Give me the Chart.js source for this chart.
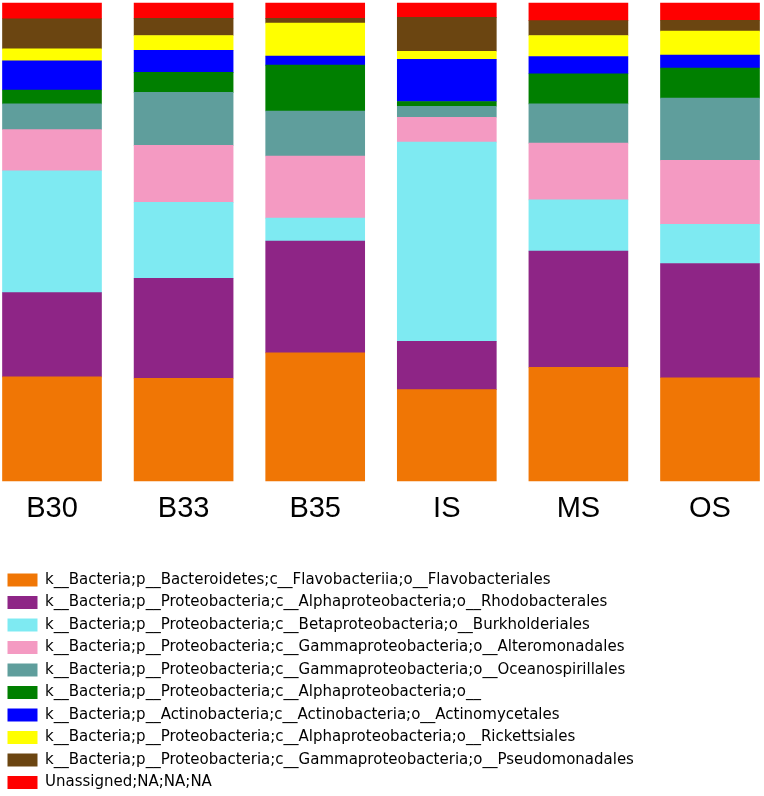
<!DOCTYPE html>
<html>
<head>
<meta charset="utf-8">
<script src="https://cdn.jsdelivr.net/npm/chart.js@4.4.0/dist/chart.umd.min.js"></script>
<style>
  html, body { margin: 0; padding: 0; background: #fff; }
  #wrap { width: 764px; height: 796px; }
</style>
</head>
<body>
<div id="wrap"><canvas id="myChart" width="764" height="796"></canvas></div>
<script>
const samples = ['B30', 'B33', 'B35', 'IS', 'MS', 'OS']

// relative abundance (%) per sample, bottom of the stack first
const flavobacteriales = [21.8, 21.5, 26.8, 19.1, 23.8, 21.6]
const rhodobacterales = [17.6, 20.9, 23.4, 10.1, 24.3, 23.9]
const burkholderiales = [25.5, 15.9, 4.8, 41.7, 10.7, 8.2]
const alteromonadales = [8.6, 11.9, 13.0, 5.2, 11.9, 13.4]
const oceanospirillales = [5.4, 11.1, 9.4, 2.3, 8.2, 13.0]
const alphaOther = [2.9, 4.2, 9.6, 1.0, 6.3, 6.3]
const actinomycetales = [6.1, 4.6, 1.9, 8.8, 3.6, 2.7]
const rickettsiales = [2.5, 3.1, 6.9, 1.7, 4.4, 5.0]
const pseudomonadales = [6.3, 3.6, 1.0, 7.1, 3.1, 2.3]
const unassigned = [3.3, 3.2, 3.2, 3.0, 3.7, 3.6]

const taxa = [
    {label: 'k__Bacteria;p__Bacteroidetes;c__Flavobacteriia;o__Flavobacteriales', data: flavobacteriales, color: '#f07605'},
    {label: 'k__Bacteria;p__Proteobacteria;c__Alphaproteobacteria;o__Rhodobacterales', data: rhodobacterales, color: '#8e2586'},
    {label: 'k__Bacteria;p__Proteobacteria;c__Betaproteobacteria;o__Burkholderiales', data: burkholderiales, color: '#7eeaf2'},
    {label: 'k__Bacteria;p__Proteobacteria;c__Gammaproteobacteria;o__Alteromonadales', data: alteromonadales, color: '#f49ac2'},
    {label: 'k__Bacteria;p__Proteobacteria;c__Gammaproteobacteria;o__Oceanospirillales', data: oceanospirillales, color: '#5f9e9c'},
    {label: 'k__Bacteria;p__Proteobacteria;c__Alphaproteobacteria;o__', data: alphaOther, color: '#007f00'},
    {label: 'k__Bacteria;p__Actinobacteria;c__Actinobacteria;o__Actinomycetales', data: actinomycetales, color: '#0000ff'},
    {label: 'k__Bacteria;p__Proteobacteria;c__Alphaproteobacteria;o__Rickettsiales', data: rickettsiales, color: '#ffff00'},
    {label: 'k__Bacteria;p__Proteobacteria;c__Gammaproteobacteria;o__Pseudomonadales', data: pseudomonadales, color: '#6b4511'},
    {label: 'Unassigned;NA;NA;NA', data: unassigned, color: '#ff0000'}
]

const ctx = document.querySelector('#myChart').getContext('2d')

const taxaChart = new Chart(ctx, {
    type: 'bar',
    data: {
        labels: samples,
        datasets: taxa.map(t => ({
            label: t.label,
            data: t.data,
            backgroundColor: t.color,
            borderWidth: 0,
            barThickness: 99,
            clip: false
        }))
    },
    options: {
        responsive: false,
        animation: false,
        layout: {padding: {top: 3, bottom: -4, left: 0, right: 0}},
        plugins: {
            tooltip: {enabled: false},
            legend: {
                position: 'bottom',
                align: 'start',
                labels: {
                    boxWidth: 30,
                    boxHeight: 13,
                    padding: 7.5,
                    color: '#000',
                    font: {family: 'DejaVu Sans', size: 15}
                }
            }
        },
        scales: {
            x: {
                stacked: true,
                offset: false,
                grid: {display: false},
                border: {display: false},
                ticks: {
                    color: '#000',
                    padding: 3,
                    maxRotation: 0,
                    font: {family: 'Liberation Sans', size: 29}
                },
                afterFit: s => { s.height = 84 }
            },
            y: {
                stacked: true,
                min: 0,
                max: 100,
                grid: {display: false},
                border: {display: false},
                ticks: {display: false},
                afterFit: s => { s.width = 52 }
            },
            y2: {
                position: 'right',
                grid: {display: false},
                border: {display: false},
                ticks: {display: false},
                afterFit: s => { s.width = 54 }
            }
        }
    }
})
</script>
</body>
</html>
